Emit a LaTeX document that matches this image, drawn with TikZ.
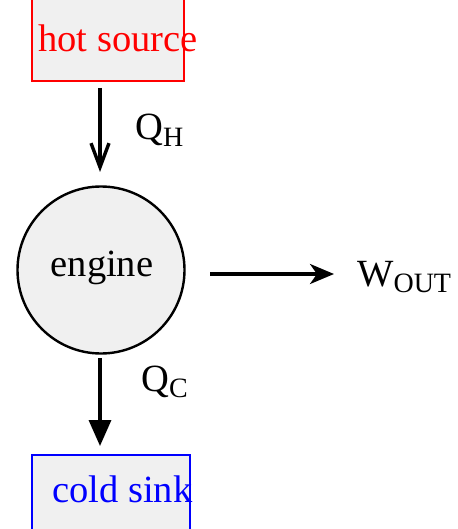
\documentclass[tikz,border=0pt]{standalone}
\usepackage{fontspec}
\setmainfont{Liberation Serif}
\usetikzlibrary{arrows.meta}
\definecolor{boxfill}{HTML}{F0F0F0}
\tikzset{
  big/.style={font=\fontsize{38.5}{44}\selectfont, inner sep=0pt, anchor=base west},
  flow/.style={line width=3.4pt},
}
\newcommand{\sbs}[1]{\raisebox{-0.16em}{\fontsize{28}{30}\selectfont #1}}
\begin{document}
\begin{tikzpicture}[x=1pt,y=-1pt]
\useasboundingbox (0,0) rectangle (457,529);
\clip (0,0) rectangle (457,529);
% hot source
\draw[red, line width=2.4pt, fill=boxfill] (32,-10) rectangle (184,81);
\node[big, text=red] (hot) at (38,52) {hot source};
\coordinate (hotb) at (100,88);
% engine
\node[circle, draw, line width=2.4pt, fill=boxfill, minimum size=167pt, inner sep=0pt] (eng) at (101,270) {};
\node[big, anchor=base] (engt) at (102,276) {engine};
\coordinate (engt1) at (100,172);
\coordinate (engb) at (100,358);
% cold sink
\draw[blue, line width=2.4pt, fill=boxfill] (32,455) rectangle (190,545);
\node[big, text=blue] (cold) at (52,502) {cold sink};
\coordinate (coldt) at (100,446);
% arrows
\draw[flow, -{Straight Barb[length=24pt,width=18pt]}] (hotb) -- (engt1);
\draw[flow, -{Triangle[length=26pt,width=22pt]}] (engb) -- (coldt);
\coordinate (ws) at (210,274);
\coordinate (we) at (334,274);
\draw[flow, -{Stealth[length=24pt,width=20pt,inset=7pt]}] (ws) -- (we);
% labels
\node[big] (qh) at (135,140) {Q\sbs{H}};
\node[big] (qc) at (141,391) {Q\sbs{C}};
\node[big] (w) at (357,286) {W\sbs{OUT}};
\end{tikzpicture}
\end{document}
